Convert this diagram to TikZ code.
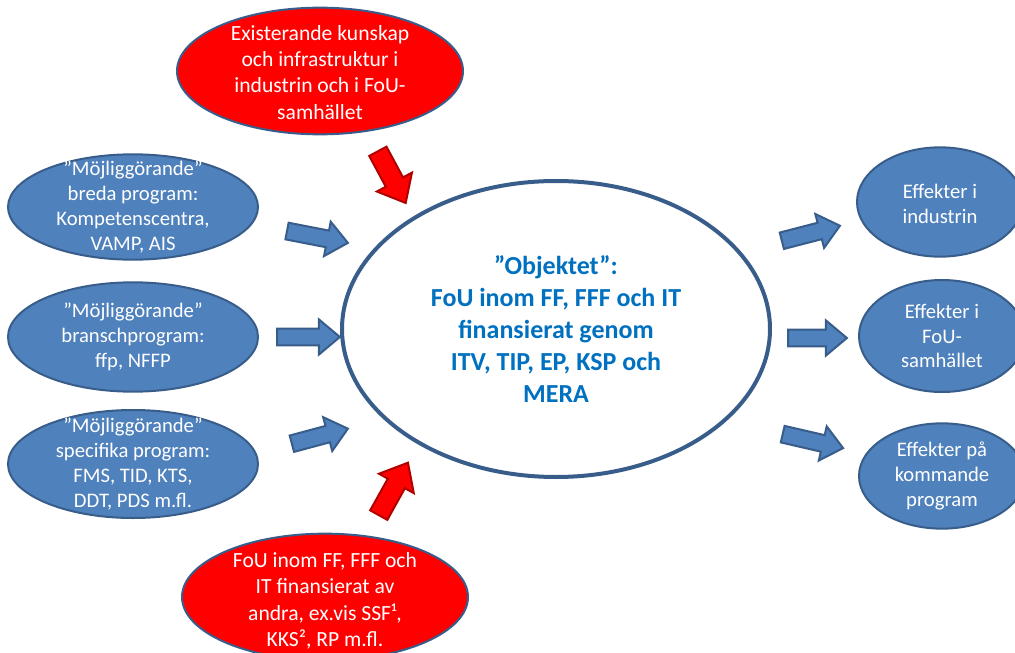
\documentclass[tikz,border=0pt]{standalone}
\usepackage{fontspec}
\setmainfont{Carlito}
\usepackage{tikz}
\usetikzlibrary{shapes.geometric,shapes.arrows}
\definecolor{progfill}{HTML}{4F81BD}
\definecolor{progline}{HTML}{385D8A}
\definecolor{externfill}{HTML}{FF0000}
\definecolor{pilline}{HTML}{B00000}
\definecolor{objtext}{HTML}{0070C0}
\tikzset{
  prog/.style={
    ellipse, draw=progline, line width=1.5pt, fill=progfill, inner sep=0pt,
    minimum width=187.5pt, minimum height=79pt
  },
  effekt/.style={
    ellipse, draw=progline, line width=1.5pt, fill=progfill, inner sep=0pt,
    minimum width=124.5pt, minimum height=82pt
  },
  extern/.style={
    ellipse, draw=progline, line width=1.5pt, fill=externfill, inner sep=0pt,
    minimum width=214.5pt, minimum height=95pt
  },
  objekt/.style={
    ellipse, draw=progline, line width=3pt, fill=white, inner sep=0pt,
    minimum width=321pt, minimum height=222pt
  },
  vittext/.style={text=white, align=center, font=\fontsize{15.5}{18.6}\selectfont},
  rodtext/.style={text=white, align=center, font=\fontsize{16.2}{19.8}\selectfont},
  blapil/.style={
    single arrow, draw=progline, line width=1.5pt, fill=progfill,
    inner sep=5.6pt, single arrow head extend=6.8pt, single arrow tip angle=80
  },
  rodpil/.style={
    single arrow, draw=pilline, line width=1.5pt, fill=externfill,
    inner sep=6.6pt, single arrow head extend=7.6pt, single arrow tip angle=80
  },
}
\begin{document}
\begin{tikzpicture}[x=0.75pt, y=-0.75pt]
  \useasboundingbox (0,0) rectangle (1015,653);
  \clip (0,0) rectangle (1015,653);
  % mitten
  \node[objekt, label={[text=objtext, align=center,
        font=\fontsize{19.5}{24}\selectfont\bfseries]center:{”Objektet”:\\FoU inom FF, FFF och IT\\finansierat genom\\ITV, TIP, EP, KSP och\\MERA}}]
    (obj) at (556,329) {};
  % externa
  \node[extern, label={[rodtext, yshift=-1pt]center:{Existerande kunskap\\och infrastruktur i\\industrin och i FoU-\\samhället}}]
    (kunskap) at (320,71) {};
  \node[extern, label={[rodtext, yshift=-3pt]center:{FoU inom FF, FFF och\\IT finansierat av\\andra, ex.vis SSF¹,\\KKS², RP m.fl.}}]
    (andra) at (325,597) {};
  % program
  \node[prog, label={[vittext]center:{”Möjliggörande”\\breda program:\\Kompetenscentra,\\VAMP, AIS}}]
    (breda) at (133,207) {};
  \node[prog, minimum height=82pt, label={[vittext]center:{”Möjliggörande”\\branschprogram:\\ffp, NFFP}}]
    (bransch) at (133,337) {};
  \node[prog, minimum height=81pt, label={[vittext]center:{”Möjliggörande”\\specifika program:\\FMS, TID, KTS,\\DDT, PDS m.fl.}}]
    (specifika) at (133,464) {};
  % effekter
  \node[effekt, label={[vittext, yshift=-1.5pt]center:{Effekter i\\industrin}}] (industri) at (940,202) {};
  \node[effekt, minimum height=84pt, label={[vittext]center:{Effekter i\\FoU-\\samhället}}] (fousamh) at (942,336) {};
  \node[effekt, minimum height=79pt, label={[vittext]center:{Effekter på\\kommande\\program}}] (kommande) at (942,476) {};
  % pilar
  \node[blapil, minimum height=46.5pt, rotate=-11] (p1) at (312.5,236) {};
  \node[blapil, minimum height=47pt] (p2) at (303.5,337) {};
  \node[blapil, minimum height=43.5pt, rotate=15] (p3) at (315,437.5) {};
  \node[blapil, minimum height=45pt, rotate=14.5] (p4) at (806,234.5) {};
  \node[blapil, minimum height=44pt] (p5) at (812.5,338) {};
  \node[blapil, minimum height=46.5pt, rotate=-13] (p6) at (808,440) {};
  \node[rodpil, minimum height=44pt, rotate=-61.7] (r1) at (389,172) {};
  \node[rodpil, minimum height=45pt, rotate=60.9] (r2) at (390.5,494) {};
\end{tikzpicture}
\end{document}
